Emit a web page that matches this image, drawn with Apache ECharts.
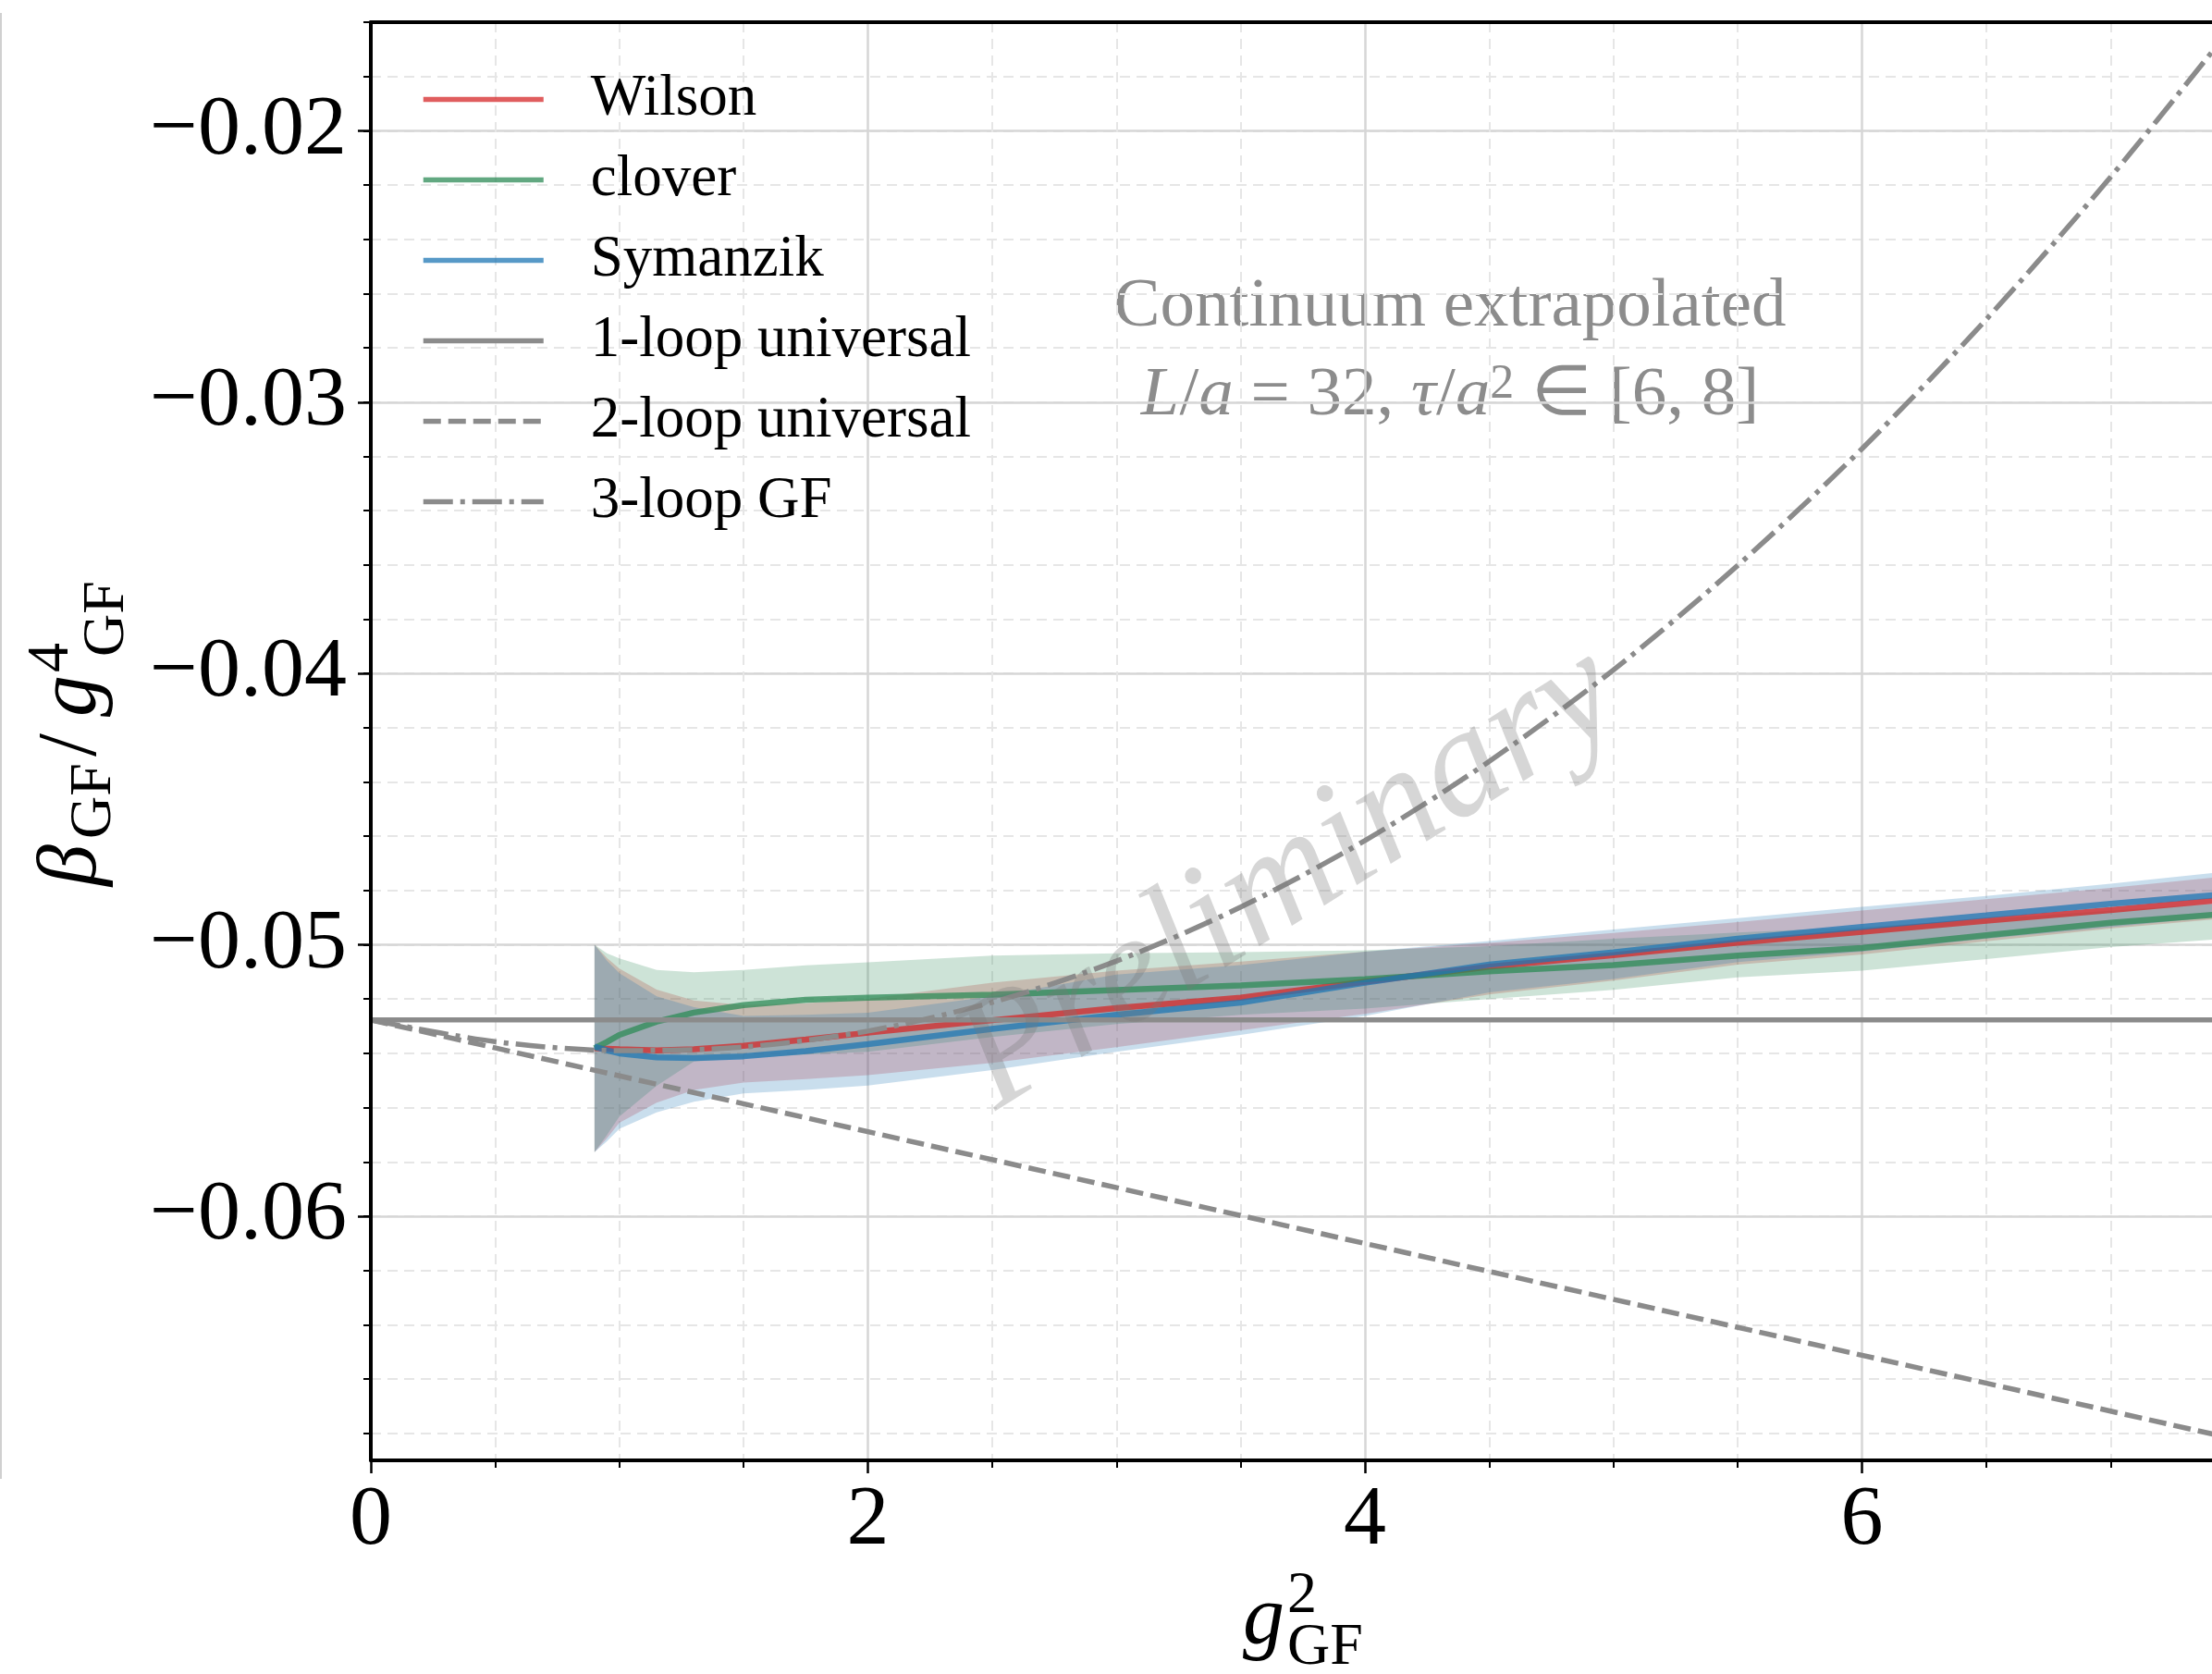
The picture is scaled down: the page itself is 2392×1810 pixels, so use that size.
<!DOCTYPE html>
<html>
<head>
<meta charset="utf-8">
<script src="https://cdn.jsdelivr.net/npm/echarts@6/dist/echarts.min.js"></script>
<style>
html, body { margin: 0; padding: 0; background: #fff; }
#main { width: 2392px; height: 1810px; }
</style>
</head>
<body>
<div id="main"></div>
<script>
var bandX = [0.9, 0.95, 1.0, 1.15, 1.3, 1.5, 1.75, 2.0, 2.5, 3.0, 3.5, 4.0, 4.5, 5.0, 5.5, 6.0, 6.5, 7.0, 7.42];

// Wilson flow
var wilsonMid = [-0.05381, -0.05383, -0.05385, -0.05389, -0.05385, -0.05372, -0.05349, -0.05324, -0.05278, -0.05233, -0.05195, -0.05136, -0.05081, -0.05038, -0.04992, -0.04952, -0.04911, -0.04872, -0.04837];
var wilsonHi  = [-0.05000, -0.05048, -0.05088, -0.05165, -0.05205, -0.05222, -0.05215, -0.05199, -0.05140, -0.05095, -0.05062, -0.05025, -0.04993, -0.04956, -0.04916, -0.04874, -0.04832, -0.04790, -0.04752];
var wilsonLo  = [-0.05764, -0.05713, -0.05656, -0.05582, -0.05535, -0.05508, -0.05495, -0.05480, -0.05435, -0.05377, -0.05315, -0.05255, -0.05183, -0.05132, -0.05073, -0.05036, -0.04987, -0.04940, -0.04906];

// clover
var cloverMid = [-0.05381, -0.05358, -0.05332, -0.05283, -0.05250, -0.05222, -0.05203, -0.05195, -0.05184, -0.05167, -0.05150, -0.05127, -0.05098, -0.05075, -0.05040, -0.05012, -0.04965, -0.04919, -0.04889];
var cloverHi  = [-0.05000, -0.05031, -0.05050, -0.05093, -0.05101, -0.05093, -0.05076, -0.05065, -0.05040, -0.05031, -0.05027, -0.05020, -0.05005, -0.04978, -0.04955, -0.04935, -0.04905, -0.04875, -0.04849];
var cloverLo  = [-0.05764, -0.05701, -0.05633, -0.05520, -0.05430, -0.05418, -0.05405, -0.05394, -0.05340, -0.05292, -0.05258, -0.05235, -0.05200, -0.05166, -0.05120, -0.05095, -0.05053, -0.05008, -0.04980];

// Symanzik
var symanzikMid = [-0.05375, -0.05389, -0.05400, -0.05415, -0.05417, -0.05411, -0.05392, -0.05366, -0.05310, -0.05258, -0.05213, -0.05140, -0.05073, -0.05028, -0.04978, -0.04934, -0.04892, -0.04849, -0.04817];
var symanzikHi  = [-0.05000, -0.05059, -0.05105, -0.05190, -0.05230, -0.05262, -0.05258, -0.05250, -0.05190, -0.05110, -0.05075, -0.05025, -0.04986, -0.04944, -0.04902, -0.04860, -0.04820, -0.04775, -0.04735];
var symanzikLo  = [-0.05764, -0.05724, -0.05678, -0.05618, -0.05578, -0.05548, -0.05535, -0.05519, -0.05462, -0.05394, -0.05332, -0.05262, -0.05175, -0.05126, -0.05064, -0.05025, -0.04978, -0.04935, -0.04897];

// perturbative curves
var loopX = [0, 7.42];
var oneLoop = [-0.05277, -0.05277];
var twoLoop = [-0.05277, -0.06805];
var threeLoopX = [0, 0.5, 1, 1.5, 2, 2.5, 3, 3.5, 4, 4.5, 5, 5.5, 6, 6.5, 7, 7.42];
var threeLoop = [-0.05277, -0.05357, -0.05390, -0.05377, -0.05318, -0.05212, -0.05060, -0.04861, -0.04616, -0.04324, -0.03987, -0.03602, -0.03172, -0.02695, -0.02171, -0.01696];

// axes
var xTicks = [0, 2, 4, 6, 8];
var yTicks = [-0.06, -0.05, -0.04, -0.03, -0.02];
var yMinorTicks = [-0.068, -0.016];
var yMin = -0.069, yMax = -0.016;

var serif = 'Liberation Serif';
var plotLeft = 401, plotTop = 24, plotHeight = 1555, plotWidth = 2150;
var pxPerY = plotHeight / (yMax - yMin);
function yPix(v) { return plotTop + (yMax - v) * pxPerY; }

function pairs(xs, ys) {
    return xs.map(function (x, i) { return [x, ys[i]]; });
}

function band(name, lo, hi, color) {
    return {
        type: 'custom',
        name: name,
        xAxisIndex: 0,
        yAxisIndex: 0,
        silent: true,
        data: [[bandX[0], lo[0]]],
        renderItem: function (params, api) {
            var pts = [];
            for (var i = 0; i < bandX.length; i++) pts.push(api.coord([bandX[i], hi[i]]));
            for (var j = bandX.length - 1; j >= 0; j--) pts.push(api.coord([bandX[j], lo[j]]));
            return { type: 'polygon', shape: { points: pts }, style: { fill: color } };
        }
    };
}

function curve(name, xs, ys, color, width, type, smooth) {
    return {
        type: 'line',
        name: name,
        xAxisIndex: 0,
        yAxisIndex: 0,
        data: pairs(xs, ys),
        symbol: 'none',
        smooth: smooth || false,
        silent: true,
        lineStyle: { color: color, width: width, type: type || 'solid' },
        itemStyle: { color: color }
    };
}

function mathText(x, baseline, text, size, italic) {
    return {
        type: 'text',
        x: x,
        y: baseline - 0.32 * size,
        style: {
            text: text,
            fontSize: size,
            fontFamily: serif,
            fontStyle: italic ? 'italic' : 'normal',
            fill: '#000',
            align: 'left',
            verticalAlign: 'middle'
        }
    };
}

var minus = function (v) { return (v < 0 ? '\u2212' : '') + Math.abs(v).toFixed(2); };
var spine = { color: '#000', width: 4 };
var tickLine = { color: '#000', width: 2.5 };
var minorLine = { color: '#000', width: 2 };
var majorGrid = { color: '#d6d6d6', width: 2.5 };
var minorGrid = { color: '#e6e6e6', width: 2, type: [11, 7] };

var chart = echarts.init(document.getElementById('main'));
var option = {
    animation: false,
    backgroundColor: '#fff',
    grid: [
        // plot area (runs past the right edge of the picture)
        { left: plotLeft, top: plotTop, width: plotWidth, height: plotHeight, outerBoundsMode: 'none' },
        // minor y ticks / dashed lines
        { left: plotLeft, top: yPix(yMinorTicks[1]), width: plotWidth,
          height: yPix(yMinorTicks[0]) - yPix(yMinorTicks[1]), outerBoundsMode: 'none' },
        // major y ticks / labels
        { left: plotLeft, top: yPix(yTicks[yTicks.length - 1]), width: plotWidth,
          height: yPix(yTicks[0]) - yPix(yTicks[yTicks.length - 1]), outerBoundsMode: 'none' }
    ],
    legend: {
        data: ['Wilson', 'clover', 'Symanzik', '1-loop universal', '2-loop universal', '3-loop GF'],
        orient: 'vertical',
        left: 455,
        top: 76,
        padding: 0,
        itemWidth: 130,
        itemHeight: 2,
        itemGap: 24,
        selectedMode: false,
        lineStyle: { width: 5.5 },
        itemStyle: { opacity: 0 },
        textStyle: { fontFamily: serif, fontSize: 63, color: '#000', padding: [0, 0, 0, 46] }
    },
    xAxis: [{
        gridIndex: 0,
        type: 'value',
        min: xTicks[0],
        max: xTicks[xTicks.length - 1],
        interval: 2,
        axisLine: { show: true, onZero: false, lineStyle: spine },
        axisTick: { show: true, inside: false, length: 14, lineStyle: tickLine },
        minorTick: { show: true, splitNumber: 4, length: 8, lineStyle: minorLine },
        axisLabel: { fontFamily: serif, fontSize: 92, color: '#000', margin: 20 },
        splitLine: { show: true, showMinLine: false, lineStyle: majorGrid },
        minorSplitLine: { show: true, lineStyle: minorGrid }
    }, {
        gridIndex: 1, type: 'value', show: false, min: 0, max: 8
    }, {
        gridIndex: 2, type: 'value', show: false, min: 0, max: 8
    }, {
        // top spine
        gridIndex: 0, type: 'value', position: 'top', min: 0, max: 8, z: 5,
        axisLine: { show: true, onZero: false, lineStyle: spine },
        axisTick: { show: false }, axisLabel: { show: false }, splitLine: { show: false }
    }],
    yAxis: [{
        gridIndex: 0,
        type: 'value',
        min: yMin,
        max: yMax,
        z: 5,
        axisLine: { show: true, onZero: false, lineStyle: spine },
        axisTick: { show: false },
        axisLabel: { show: false },
        splitLine: { show: false }
    }, {
        gridIndex: 1,
        type: 'value',
        min: yMinorTicks[0],
        max: yMinorTicks[1],
        interval: 0.002,
        axisLine: { show: false },
        axisTick: { show: true, inside: false, length: 8, lineStyle: minorLine },
        axisLabel: { show: false },
        splitLine: { show: true, lineStyle: minorGrid }
    }, {
        gridIndex: 2,
        type: 'value',
        min: yTicks[0],
        max: yTicks[yTicks.length - 1],
        interval: 0.01,
        axisLine: { show: false },
        axisTick: { show: true, inside: false, length: 14, lineStyle: tickLine },
        axisLabel: { fontFamily: serif, fontSize: 92, color: '#000', margin: 26, formatter: minus },
        splitLine: { show: true, lineStyle: majorGrid }
    }],
    series: [
        band('Wilson band', wilsonLo, wilsonHi, 'rgba(214,39,40,0.24)'),
        band('clover band', cloverLo, cloverHi, 'rgba(46,139,87,0.24)'),
        band('Symanzik band', symanzikLo, symanzikHi, 'rgba(31,119,180,0.24)'),
        curve('Wilson', bandX, wilsonMid, 'rgba(214,39,40,0.75)', 6.5),
        curve('clover', bandX, cloverMid, 'rgba(46,139,87,0.75)', 6.5),
        curve('Symanzik', bandX, symanzikMid, 'rgba(31,119,180,0.75)', 6.5),
        curve('1-loop universal', loopX, oneLoop, '#8b8b8b', 5.5),
        curve('2-loop universal', loopX, twoLoop, '#8b8b8b', 5.5, [19, 8]),
        curve('3-loop GF', threeLoopX, threeLoop, '#8b8b8b', 5.5, [32, 8, 5, 8], 0.3)
    ],
    graphic: [
        // thin frame edge of the neighbouring panel
        { type: 'line', shape: { x1: 1, y1: 14, x2: 1, y2: 1599 }, style: { stroke: '#d0d0d0', lineWidth: 2 } },
        // y axis label: beta_GF / g^4_GF
        { type: 'group', x: 108, y: 958, rotation: Math.PI / 2, children: [
            mathText(0, 0, 'β', 90, true),
            mathText(51, 15, 'GF', 64, false),
            mathText(140, 0, '/', 90, false),
            mathText(183, 0, 'g', 90, true),
            mathText(231, -31, '4', 64, false),
            mathText(248, 29, 'GF', 64, false)
        ] },
        // x axis label: g^2_GF
        mathText(1344, 1782, 'g', 90, true),
        mathText(1392, 1747, '2', 64, false),
        mathText(1392, 1803, 'GF', 64, false),
        // annotation
        { type: 'text', x: 1568, y: 332, style: {
            text: 'Continuum extrapolated', fontSize: 75, fontFamily: serif,
            fill: '#8c8c8c', align: 'center', verticalAlign: 'middle' } },
        { type: 'text', x: 1568, y: 428, style: {
            text: '{i|L}/{i|a} = 32, {i|τ}/{i|a}{s|2} ∈ [6, 8]',
            rich: {
                i: { fontStyle: 'italic', fontSize: 75, fontFamily: serif },
                s: { fontSize: 52, fontFamily: serif, verticalAlign: 'top' }
            },
            fontSize: 75, fontFamily: serif,
            fill: '#8c8c8c', align: 'center', verticalAlign: 'middle' } },
        // watermark
        { type: 'text', x: 1395, y: 950, rotation: 32 * Math.PI / 180, z: 100, style: {
            text: 'Preliminary', fontSize: 168, fontFamily: serif, fontStyle: 'italic',
            fill: 'rgba(120,120,120,0.3)', align: 'center', verticalAlign: 'middle' } }
    ]
};
chart.setOption(option);
</script>
</body>
</html>
